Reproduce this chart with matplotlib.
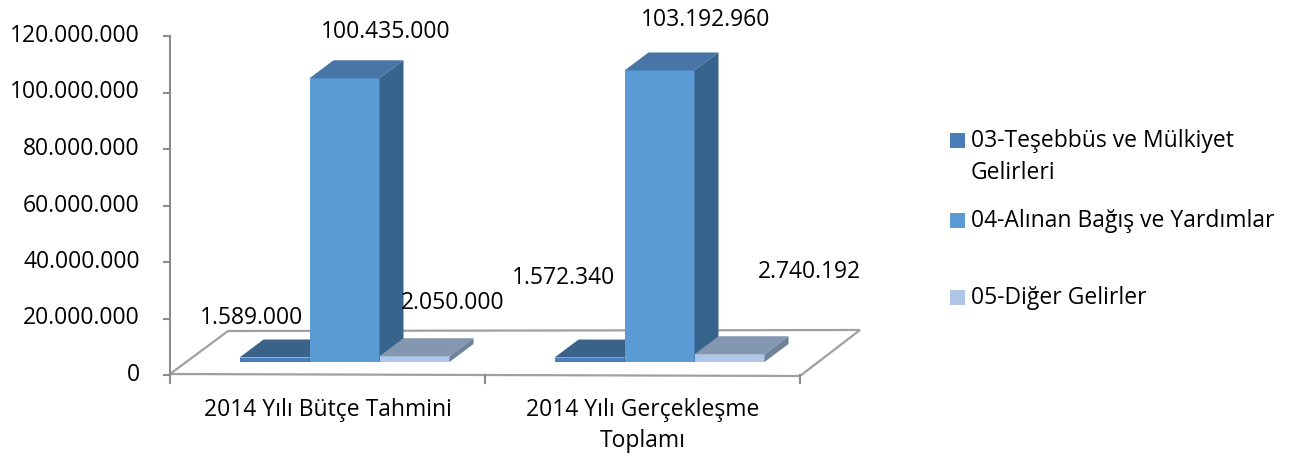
import matplotlib
matplotlib.use("Agg")
import matplotlib.pyplot as plt
from matplotlib.patches import Polygon, Rectangle

# ---- data ----
categories = ["2014 Yılı Bütçe Tahmini", "2014 Yılı Gerçekleşme\nToplamı"]
series_names = ["03-Teşebbüs ve Mülkiyet\nGelirleri", "04-Alınan Bağış ve Yardımlar", "05-Diğer Gelirler"]
s03 = [1589000, 1572340]
s04 = [100435000, 103192960]
s05 = [2050000, 2740192]
value_labels = [["1.589.000", "1.572.340"],
                ["100.435.000", "103.192.960"],
                ["2.050.000", "2.740.192"]]
yticks = [0, 20000000, 40000000, 60000000, 80000000, 100000000, 120000000]

series = [s03, s04, s05]
front_cols = ["#4A7EBB", "#5B9BD5", "#AEC7E8"]
top_cols = ["#3B6389", "#4675A6", "#8497B0"]
side_cols = ["#355C80", "#37648C", "#6E8299"]
legend_cols = ["#4A7EBB", "#5B9BD5", "#AEC7E8"]

FONT = "Open Sans"
plt.rcParams["font.family"] = [FONT, "DejaVu Sans"]
FS = 16.5

W, H = 1302, 459
fig = plt.figure(figsize=(W / 100, H / 100), dpi=100)
px_l, px_r, px_top, px_bot = 170, 800, 36, 375
ax = fig.add_axes([px_l / W, (H - px_bot) / H, (px_r - px_l) / W, (px_bot - px_top) / H])
ax.set_xlim(-0.5, 1.5)
ax.set_ylim(0, 120000000)
ax.axis("off")

ppx = (px_r - px_l) / 2.0
ppy = (px_bot - px_top) / 120000000

def dx(p):
    return p / ppx

def dy(p):
    return p / ppy

grey = "#A0A0A0"

# floor (perspective parallelogram)
floor = [(-0.5, dy(1)), (1.5, dy(-1)), (1.5 + dx(60), dy(45)), (-0.5 + dx(58), dy(44))]
ax.add_patch(Polygon(floor, closed=True, facecolor="white", edgecolor=grey, lw=1.6,
                     clip_on=False, zorder=2))

# vertical axis
ax.plot([-0.5, -0.5], [dy(-8), 120000000], color="#8C8C8C", lw=1.5, clip_on=False, zorder=3)
for t in yticks:
    ax.plot([-0.5 - dx(6), -0.5], [t, t], color="#8C8C8C", lw=1.5, clip_on=False, zorder=3)
    ax.text(-0.5 - dx(30), t, f"{t:,}".replace(",", "."), ha="right", va="center",
            fontsize=FS, color="#000000")
# category ticks
for xt in [0.5, 1.5]:
    ax.plot([xt, xt], [0, dy(-8)], color="#8C8C8C", lw=1.5, clip_on=False, zorder=3)
for i, c in enumerate(categories):
    for li, line in enumerate(c.split("\n")):
        ax.text(i, dy(-35 - 31 * li), line, ha="center", va="center", fontsize=FS)

# bars
bw = dx(70)
base = dy(13)
shift = dx(17)
ddx, ddy = dx(24), dy(18)
label_off = [[(-23, 40), (-26, 80)], [(41, 46), (46, 50)], [(38, 53), (80, 82)]]
for ci in range(len(categories)):
    for si, vals in enumerate(series):
        v = vals[ci]
        x0 = ci + shift - 1.5 * bw + si * bw
        ax.bar(x0, v, width=bw, bottom=base, align="edge", color=front_cols[si],
               lw=0, zorder=5 + si, clip_on=False)
        top = [(x0, base + v), (x0 + bw, base + v), (x0 + bw + ddx, base + v + ddy), (x0 + ddx, base + v + ddy)]
        ax.add_patch(Polygon(top, closed=True, facecolor=top_cols[si], lw=0, zorder=5 + si, clip_on=False))
        side = [(x0 + bw, base), (x0 + bw, base + v), (x0 + bw + ddx, base + v + ddy), (x0 + bw + ddx, base + ddy)]
        ax.add_patch(Polygon(side, closed=True, facecolor=side_cols[si], lw=0, zorder=5 + si, clip_on=False))
        ox, oy = label_off[si][ci]
        ax.annotate(value_labels[si][ci], (x0 + bw / 2, base + v), xytext=(ox, oy),
                    textcoords="offset pixels", ha="center", va="center", fontsize=FS,
                    annotation_clip=False, zorder=20)

# legend
leg_y = [140, 220, 297]
for si, name in enumerate(series_names):
    y = leg_y[si]
    fig.patches.append(Rectangle((950 / W, (H - y - 7.5) / H), 15 / W, 15 / H,
                                 transform=fig.transFigure, facecolor=legend_cols[si], lw=0))
    for li, line in enumerate(name.split("\n")):
        fig.text(971 / W, (H - y - 1 - 32 * li) / H, line, ha="left", va="center", fontsize=FS)

fig.savefig("out.png", dpi=100)
